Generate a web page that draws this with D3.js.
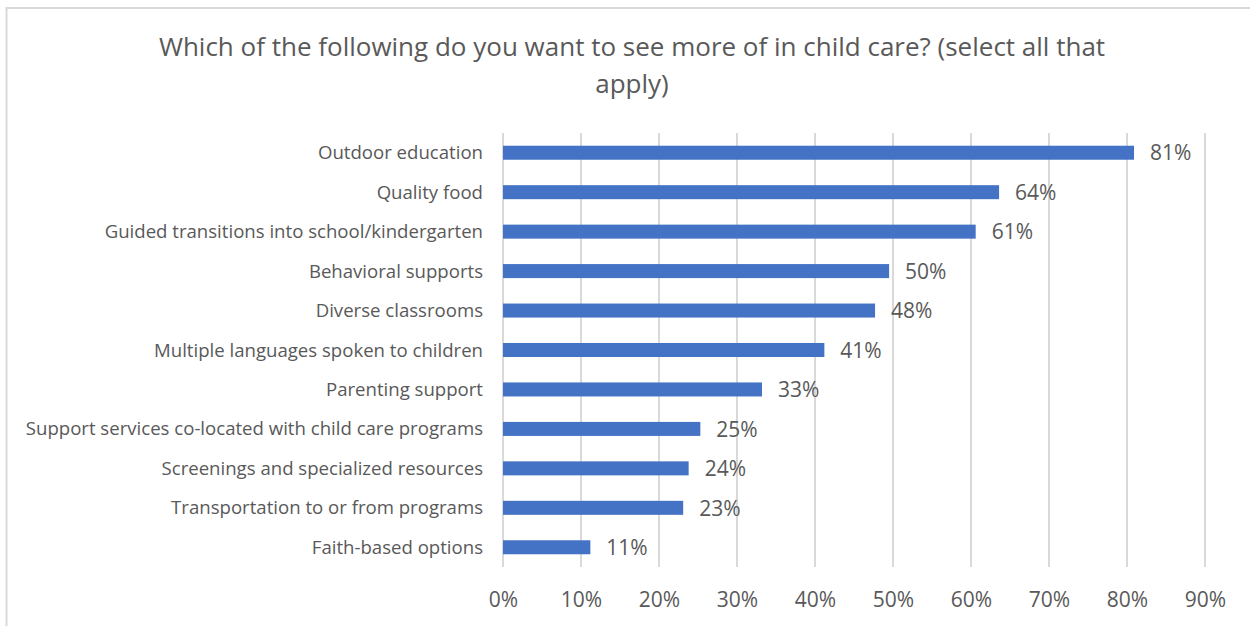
<!DOCTYPE html>
<html>
<head>
<meta charset="utf-8">
<script src="https://cdn.jsdelivr.net/npm/d3@7"></script>
<style>
  body { margin: 0; background: #fff; }
  text { font-family: "Open Sans", sans-serif; fill: #595959; }
</style>
</head>
<body>
<div id="chart"></div>
<script>
// survey answers, top to bottom
var categories = [
  "Outdoor education",
  "Quality food",
  "Guided transitions into school/kindergarten",
  "Behavioral supports",
  "Diverse classrooms",
  "Multiple languages spoken to children",
  "Parenting support",
  "Support services co-located with child care programs",
  "Screenings and specialized resources",
  "Transportation to or from programs",
  "Faith-based options"
];
// bar lengths (labels are the rounded values)
var values = [80.9, 63.6, 60.6, 49.5, 47.7, 41.2, 33.2, 25.3, 23.8, 23.1, 11.2];
var tickValues = [0, 10, 20, 30, 40, 50, 60, 70, 80, 90];
var titleLines = ["Which of the following do you want to see more of in child care? (select all that", "apply)"];

var W = 1250, H = 626;
var margin = { top: 133, left: 503, right: 45, bottom: 59 };
var width = W - margin.left - margin.right,
    height = H - margin.top - margin.bottom;

var svg = d3.select("#chart").append("svg")
    .attr("width", W)
    .attr("height", H);

// outer chart border (only top and left visible)
svg.append("path")
    .attr("d", "M6.5,626 L6.5,8 L1250,8")
    .attr("fill", "none")
    .attr("stroke", "#d9d9d9")
    .attr("stroke-width", 2);

svg.selectAll(".title")
    .data(titleLines)
    .enter().append("text")
    .attr("class", "title")
    .attr("x", 632)
    .attr("y", function(d, i) { return 56 + i * 37; })
    .attr("text-anchor", "middle")
    .style("font-size", "26px")
    .text(function(d) { return d; });

var g = svg.append("g")
    .attr("transform", "translate(" + margin.left + "," + margin.top + ")");

var x = d3.scaleLinear()
    .domain([0, 90])
    .range([0, 702]);

var y = d3.scaleBand()
    .domain(categories)
    .range([0, height])
    .paddingInner(0.645)
    .paddingOuter(0.3225);

// gridlines
g.selectAll(".grid")
    .data(tickValues)
    .enter().append("line")
    .attr("class", "grid")
    .attr("x1", function(d) { return x(d); })
    .attr("x2", function(d) { return x(d); })
    .attr("y1", 0)
    .attr("y2", height)
    .attr("stroke", "#d9d9d9")
    .attr("stroke-width", 2);

var xAxis = d3.axisBottom(x)
    .tickValues(tickValues)
    .tickSize(0)
    .tickPadding(0)
    .tickFormat(function(d) { return d + "%"; });

var ax = g.append("g")
    .attr("transform", "translate(0," + height + ")")
    .call(xAxis);
ax.select(".domain").remove();
ax.selectAll("text")
    .attr("y", 40)
    .attr("dy", 0)
    .style("font-size", "21px")
    .style("fill", "#595959");

var yAxis = d3.axisLeft(y).tickSize(0).tickPadding(20);
var ay = g.append("g").call(yAxis);
ay.select(".domain").remove();
ay.selectAll("text")
    .attr("dy", "0.35em")
    .style("font-size", "18.6px")
    .style("fill", "#595959");

g.selectAll(".bar")
    .data(values)
    .enter().append("rect")
    .attr("class", "bar")
    .attr("x", 0)
    .attr("y", function(d, i) { return y(categories[i]); })
    .attr("width", function(d) { return x(d); })
    .attr("height", y.bandwidth())
    .attr("fill", "#4472c4");

g.selectAll(".val")
    .data(values)
    .enter().append("text")
    .attr("class", "val")
    .attr("x", function(d) { return x(d) + 16; })
    .attr("y", function(d, i) { return y(categories[i]) + y.bandwidth() / 2; })
    .attr("dy", "0.37em")
    .style("font-size", "21px")
    .text(function(d) { return Math.round(d) + "%"; });
</script>
</body>
</html>
